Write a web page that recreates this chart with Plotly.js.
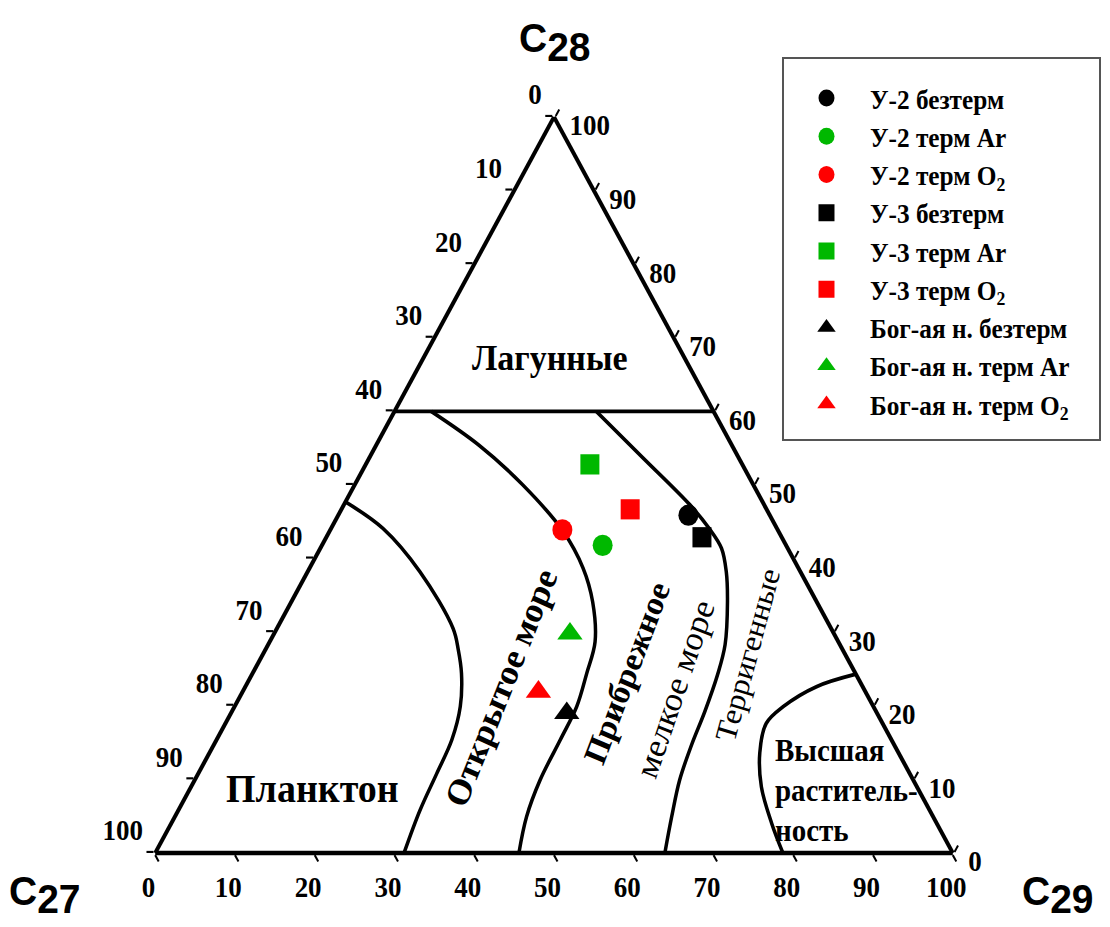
<!DOCTYPE html>
<html>
<head>
<meta charset="utf-8">
<script src="https://cdn.plot.ly/plotly-3.0.1.min.js"></script>
<style>
html,body{margin:0;padding:0;background:#fff;overflow:hidden;width:1110px;height:927px}
#chart{width:1110px;height:870px;transform:scaleY(1.06552);transform-origin:0 0}
</style>
</head>
<body>
<div id="chart"></div>
<script>
// ---------- data ----------
const tickValues = [0, 10, 20, 30, 40, 50, 60, 70, 80, 90, 100];
const tickLabels = ['100', '90', '80', '70', '60', '50', '40', '30', '20', '10', '0'];

const seriesNames = [
  'У-2 безтерм', 'У-2 терм Ar', 'У-2 терм O<sub>2</sub>',
  'У-3 безтерм', 'У-3 терм Ar', 'У-3 терм O<sub>2</sub>',
  'Бог-ая н. безтерм', 'Бог-ая н. терм Ar', 'Бог-ая н. терм O<sub>2</sub>'
];
const seriesC27 = [10.2, 23.0, 27.0, 10.0, 19.1, 17.1, 38.9, 33.1, 41.0];
const seriesC28 = [45.9, 41.8, 43.9, 42.9, 52.8, 46.7, 19.0, 29.8, 21.9];
const seriesC29 = [43.9, 35.2, 29.1, 47.1, 28.1, 36.2, 42.1, 37.1, 37.1];

// boundaries between facies fields (C28, C29 in %; C27 = 100 - C28 - C29)
const lagoonC28 = [60, 60];
const lagoonC29 = [0, 40];
const planktonC28 = [47.7, 44.1, 38.2, 30.5, 27.6, 24.4, 19.9, 15.4, 10.8, 5.8, 0];
const planktonC29 = [0, 6.5, 14.1, 22.1, 24.2, 26.2, 28.3, 29.5, 29.9, 30.3, 31.2];
const openSeaC28 = [60, 55.4, 50, 43.7, 38.7, 34.1, 28.7, 24.4, 19.9, 15.4, 9.9, 4.9, 0];
const openSeaC29 = [4.6, 12.9, 21.1, 29.3, 34.3, 37.8, 40.8, 41.9, 42.9, 43.1, 43.3, 44.1, 45.6];
const coastalC28 = [60, 53.7, 47.3, 44.1, 41.4, 38.2, 34.1, 28.3, 24.2, 19.2, 14.7, 9.9, 4.9, 0];
const coastalC29 = [25.3, 34.3, 43.4, 47.4, 50.3, 52.5, 54.7, 57.3, 58.4, 59.3, 59.9, 60.8, 62.3, 63.9];
const plantsC28 = [24.3, 22.6, 19.9, 17.6, 13.6, 9.0, 4.0, 0];
const plantsC29 = [75.7, 71.6, 68.8, 67.8, 69.0, 71.5, 75.3, 78.7];

const regionLabels = ['Лагунные', 'Планктон', 'Открытое море', 'Прибрежное', 'мелкое море', 'Терригенные', 'Высшая<br>раститель-<br>ность'];
const vertexLabels = ['C<sub><span style="font-size:39px">28</span></sub>', 'C<sub><span style="font-size:39px">27</span></sub>', 'C<sub><span style="font-size:39px">29</span></sub>'];

// ---------- styles ----------
const SERIF = 'Liberation Serif, Times New Roman, serif';
const SANS = 'Liberation Sans, Arial, sans-serif';
const NB = '\u00a0';
const siteSymbols = ['circle', 'square', 'triangle-up'];
const siteSizes = [20, 19, 22];
const treatColors = ['#000000', '#00b800', '#ff0000'];

function rest(c28, c29) { return c28.map((v, i) => 100 - v - c29[i]); }

function boundary(c28, c29, shape) {
  return {
    type: 'scatterternary', mode: 'lines',
    a: c28, b: rest(c28, c29), c: c29,
    line: {color: '#000', width: 3.5, shape: shape, smoothing: 1},
    showlegend: false, hoverinfo: 'skip'
  };
}

const traces = [
  boundary(lagoonC28, lagoonC29, 'linear'),
  boundary(planktonC28, planktonC29, 'spline'),
  boundary(openSeaC28, openSeaC29, 'spline'),
  boundary(coastalC28, coastalC29, 'spline'),
  boundary(plantsC28, plantsC29, 'spline')
];

seriesNames.forEach((name, i) => {
  const site = Math.floor(i / 3);
  traces.push({
    type: 'scatterternary', mode: 'markers', name: name,
    a: [seriesC28[i]], b: [seriesC27[i]], c: [seriesC29[i]],
    marker: {symbol: siteSymbols[site], size: siteSizes[site], color: treatColors[i % 3], line: {width: 0}},
    hoverinfo: 'skip'
  });
});

function makeAxis(labels) {
  return {
    tickmode: 'array', tickvals: tickValues.slice(), ticktext: labels,
    ticks: 'outside', ticklen: 7, tickwidth: 2, tickcolor: '#000',
    showgrid: false, showline: true, linecolor: '#000', linewidth: 4,
    tickfont: {family: SERIF, size: 27, color: '#000', weight: 'bold'},
    title: {text: ''}, min: 0
  };
}

// label placement (paper coordinates)
const regionPos = [
  {x: 0.4955, y: 0.6149, angle: 0, size: 34, bold: true, align: 'center'},
  {x: 0.2811, y: 0.1499, angle: 0, size: 38, bold: true, align: 'center'},
  {x: 0.4514, y: 0.2578, angle: -67, size: 34, bold: true, align: 'center'},
  {x: 0.5640, y: 0.2740, angle: -68, size: 32, bold: true, align: 'center'},
  {x: 0.6081, y: 0.2578, angle: -70, size: 33, bold: false, align: 'center'},
  {x: 0.6734, y: 0.2934, angle: -74, size: 30, bold: false, align: 'center'},
  {x: 0.6964, y: 0.1478, angle: 0, size: 29, bold: true, align: 'left'}
];
const vertexPos = [{x: 0.5, y: 0.9547}, {x: 0.0405, y: 0.0345}, {x: 0.9532, y: 0.0345}];

const annotations = [];
regionLabels.forEach((t, i) => {
  const p = regionPos[i];
  annotations.push({
    xref: 'paper', yref: 'paper', x: p.x, y: p.y, text: t, showarrow: false,
    textangle: p.angle, align: p.align, xanchor: p.align === 'left' ? 'left' : 'center', yanchor: 'middle',
    font: {family: SERIF, size: p.size, color: '#000', weight: p.bold ? 'bold' : 'normal'}
  });
});
vertexLabels.forEach((t, i) => {
  const p = vertexPos[i];
  annotations.push({
    xref: 'paper', yref: 'paper', x: p.x, y: p.y, text: t, showarrow: false,
    xanchor: 'center', yanchor: 'middle',
    font: {family: SANS, size: 39, color: '#000', weight: 'bold'}
  });
});

const layout = {
  width: 1110, height: 870,
  margin: {l: 0, r: 0, t: 0, b: 0, pad: 0},
  paper_bgcolor: '#fff',
  font: {family: SERIF, size: 25, color: '#000', weight: 'bold'},
  showlegend: true,
  ternary: {
    sum: 100,
    domain: {x: [0.13964, 0.85856], y: [0.07983, 0.87378]},
    bgcolor: '#fff',
    aaxis: makeAxis(tickLabels.map(t => t + '<br> ')),
    baxis: makeAxis(tickLabels.map(t => t + NB + NB + NB)),
    caxis: makeAxis(tickLabels.map(t => ' <br>' + NB + t))
  },
  shapes: [{
    type: 'rect', xref: 'paper', yref: 'paper',
    x0: 783 / 1110, x1: 1100 / 1110, y0: 1 - 440 / 927, y1: 1 - 58 / 927,
    line: {color: '#555', width: 2}, fillcolor: 'rgba(0,0,0,0)', layer: 'below'
  }],
  legend: {
    x: 0.7054, y: 0.9206, xanchor: 'left', yanchor: 'top',
    bgcolor: 'rgba(0,0,0,0)', borderwidth: 0,
    font: {family: SERIF, size: 25.3, color: '#000', weight: 'bold'},
    itemwidth: 77
  },
  annotations: annotations,
  hovermode: false
};

Plotly.newPlot('chart', traces, layout, {staticPlot: true, displayModeBar: false});
</script>
</body>
</html>
